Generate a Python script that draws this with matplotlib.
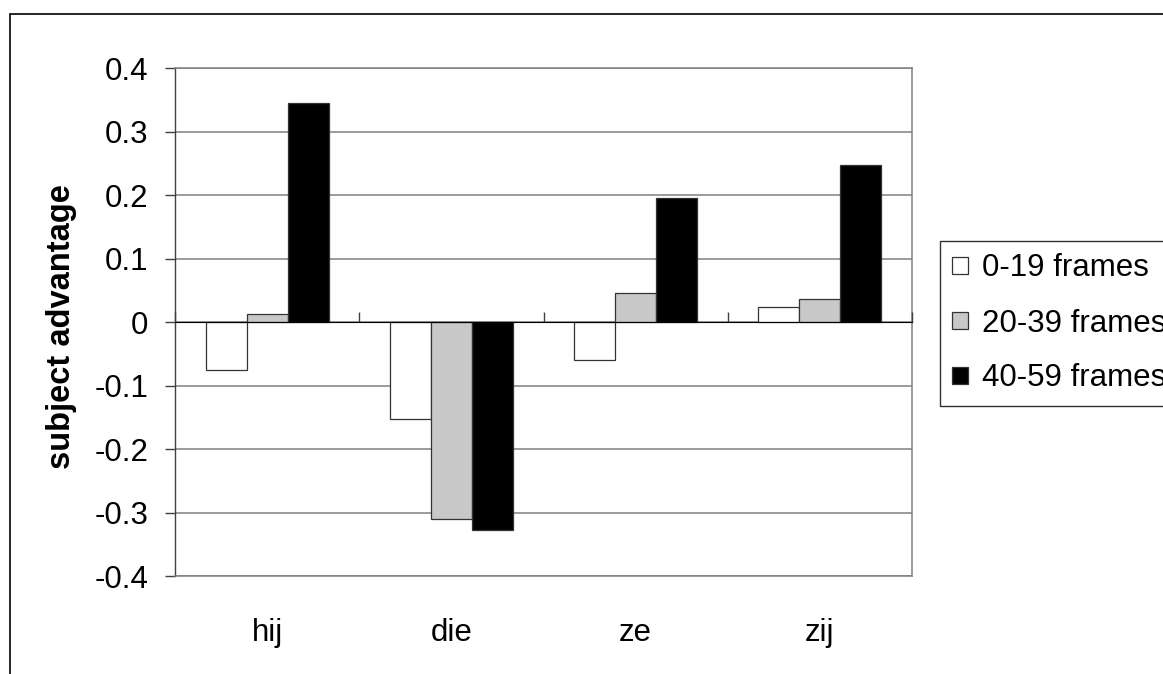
import numpy as np
import matplotlib.pyplot as plt
from matplotlib.patches import Rectangle

plt.rcParams['font.family'] = ['Liberation Sans', 'DejaVu Sans']

pronouns = ['hij', 'die', 'ze', 'zij']
series_names = ['0-19 frames', '20-39 frames', '40-59 frames']
early = [-0.076, -0.153, -0.060, 0.024]
middle = [0.012, -0.311, 0.045, 0.036]
late = [0.345, -0.328, 0.195, 0.248]
fills = ['white', '#C8C8C8', 'black']

fig = plt.figure(figsize=(11.63, 6.74), dpi=100)
ax = fig.add_axes([175 / 1163, 1 - 576 / 674, (912 - 175) / 1163, (576 - 68) / 674])

x = np.arange(len(pronouns))
width = 1 / 4.5  # 150% gap between groups
for i, (vals, col) in enumerate(zip([early, middle, late], fills)):
    ax.bar(x + (i - 1) * width, vals, width, color=col, edgecolor='#333333',
           linewidth=0.9, label=series_names[i], zorder=3)

ax.set_xlim(-0.5, len(pronouns) - 0.5)
ax.set_ylim(-0.4, 0.4)
ax.set_yticks(np.arange(-0.4, 0.41, 0.1))
ax.set_yticklabels(['-0.4', '-0.3', '-0.2', '-0.1', '0', '0.1', '0.2', '0.3', '0.4'])
ax.yaxis.grid(True, color='#808080', linewidth=1.1, zorder=0)
ax.tick_params(axis='y', labelsize=22.5, length=7, width=1, color='#404040', pad=12)

ax.set_xticks(x)
ax.set_xticklabels(pronouns)
ax.tick_params(axis='x', labelsize=22.5, length=0, pad=30)

for side in ['top', 'right', 'bottom']:
    ax.spines[side].set_color('#808080')
    ax.spines[side].set_linewidth(1.1)
ax.spines['left'].set_color('#404040')
ax.spines['left'].set_linewidth(1)

# zero line with category separator ticks
zero = ax.secondary_xaxis(0.5)
zero.set_xticks(np.arange(-0.5, len(pronouns), 1.0))
zero.set_xticklabels([])
zero.tick_params(direction='out', length=7, width=1, color='#404040')
zero.spines['bottom'].set_color('black')
zero.spines['bottom'].set_linewidth(1.1)
zero.set_zorder(4)

fig.text(62 / 1163, 1 - 327 / 674, 'subject advantage', rotation=90,
         fontsize=23.5, fontweight='bold', ha='center', va='center')

leg = fig.legend(loc='upper left', bbox_to_anchor=(940 / 1163, 1 - 241 / 674),
                 fontsize=22.5, frameon=True, fancybox=False, handlelength=0.5,
                 handleheight=0.5, handletextpad=0.45, borderpad=0.4,
                 labelspacing=0.8, borderaxespad=0)
leg.get_frame().set_edgecolor('black')
leg.get_frame().set_linewidth(1)

# outer chart border
fig.patches.append(Rectangle((10 / 1163, -0.1), 1.2, 1 - 14 / 674 + 0.1,
                             transform=fig.transFigure, fill=False,
                             edgecolor='black', linewidth=1.2))

fig.savefig('out.png', dpi=100)
